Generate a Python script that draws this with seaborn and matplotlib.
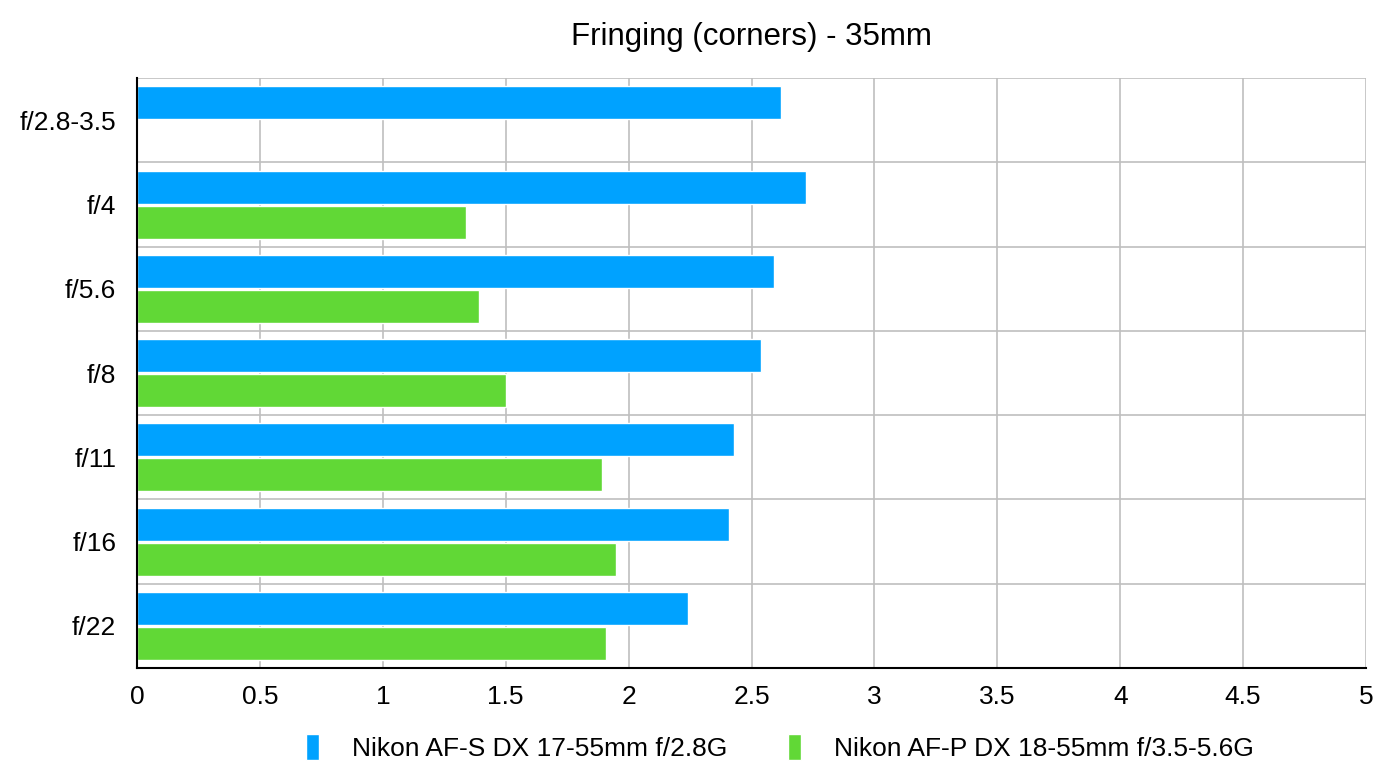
import pandas as pd
import matplotlib
matplotlib.use('Agg')
import matplotlib.pyplot as plt
import seaborn as sns
from matplotlib.ticker import FixedLocator

# Data
apertures = ['f/2.8-3.5', 'f/4', 'f/5.6', 'f/8', 'f/11', 'f/16', 'f/22']
lens_a = 'Nikon AF-S DX 17-55mm f/2.8G'
lens_b = 'Nikon AF-P DX 18-55mm f/3.5-5.6G'
values_a = [2.62, 2.72, 2.59, 2.54, 2.43, 2.41, 2.24]
values_b = [None, 1.34, 1.39, 1.50, 1.89, 1.95, 1.91]
x_ticks = [0, 0.5, 1, 1.5, 2, 2.5, 3, 3.5, 4, 4.5, 5]
x_tick_labels = ['0', '0.5', '1', '1.5', '2', '2.5', '3', '3.5', '4', '4.5', '5']

df = pd.DataFrame({
    'aperture': apertures * 2,
    'lens': [lens_a] * len(apertures) + [lens_b] * len(apertures),
    'value': values_a + values_b,
})

sns.set_style('white')
plt.rcParams['font.family'] = ['Liberation Sans', 'DejaVu Sans']
plt.rcParams['text.color'] = 'black'

fig = plt.figure(figsize=(13.94, 7.84), dpi=100)
ax = fig.add_axes([0.0983, 0.148, 0.8816, 0.7522])

sns.barplot(data=df, x='value', y='aperture', hue='lens', order=apertures,
            hue_order=[lens_a, lens_b], palette=['#00A2FF', '#61D836'],
            orient='h', width=0.83, gap=0.06, ax=ax, saturation=1)

ax.set_xlim(0, 5)
ax.set_ylim(6.5, -0.5)
ax.set_xticks(x_ticks)
ax.set_xticklabels(x_tick_labels)
ax.yaxis.set_minor_locator(FixedLocator([i - 0.5 for i in range(len(apertures) + 1)]))
ax.grid(True, axis='x', which='major', color='#BFBFBF', linewidth=1.2)
ax.grid(True, axis='y', which='minor', color='#BFBFBF', linewidth=1.2)
ax.grid(False, axis='y', which='major')
ax.set_axisbelow(True)

for side in ['top', 'right']:
    ax.spines[side].set_visible(False)
ax.spines['left'].set_color('black')
ax.spines['bottom'].set_color('black')
ax.spines['left'].set_linewidth(1.5)
ax.spines['bottom'].set_linewidth(1.5)

ax.tick_params(axis='both', which='both', length=0, labelsize=19, colors='black')
ax.tick_params(axis='x', pad=12)
ax.tick_params(axis='y', pad=15)
ax.set_xlabel('')
ax.set_ylabel('')
ax.set_title('Fringing (corners) - 35mm', fontsize=22.5, pad=24, color='black')

ax.legend(loc='upper center', bbox_to_anchor=(0.523, -0.072), ncol=2, frameon=False,
          fontsize=19, handlelength=0.5, handleheight=1.15, handletextpad=1.25,
          columnspacing=2.3, labelcolor='black')

fig.savefig('out.png', dpi=100)
